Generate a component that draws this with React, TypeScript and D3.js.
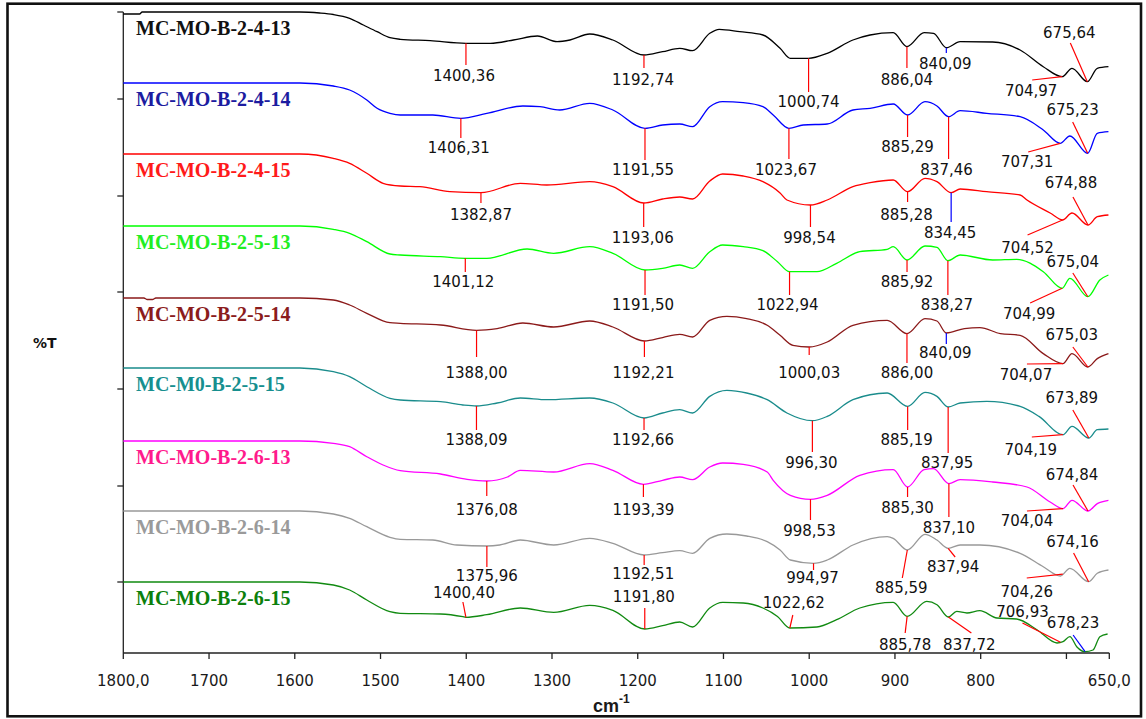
import React from 'react';
import * as d3 from 'd3';

// ---------- DATA ----------
const seriesNames = [
  'MC-MO-B-2-4-13', 'MC-MO-B-2-4-14', 'MC-MO-B-2-4-15',
  'MC-MO-B-2-5-13', 'MC-MO-B-2-5-14', 'MC-M0-B-2-5-15',
  'MC-MO-B-2-6-13', 'MC-MO-B-2-6-14', 'MC-MO-B-2-6-15',
];
const seriesColors = ['#000000', '#0000ff', '#ff0000', '#00ff00', '#8b1a1a', '#1a8c8c', '#ff00ff', '#999999', '#118a11'];
const labelColors = ['#111111', '#1c1ca0', '#ff1a1a', '#22ee22', '#8b1c1c', '#178f8f', '#ff1a8c', '#9a9a9a', '#0c800c'];

// vertical offset (arbitrary %T units) of each stacked spectrum's plateau
const offsets = [641, 570, 499, 427, 355, 285, 212, 142, 71];

// [wavenumber cm-1, %T relative to plateau]
const s1: [number, number][] = [[1800,-2],[1781,-2],[1778,0],[1594,0],[1571,-1],[1555,-2.5],[1536,-6.3],[1520,-13],[1504,-19.7],[1489,-25.7],[1477,-27.3],[1442,-28.7],[1400.36,-31.3],[1372,-31.3],[1345,-28],[1317,-24],[1294,-29.7],[1279,-28],[1256,-22],[1229,-28],[1192.74,-43],[1171,-39.7],[1151,-36.3],[1136,-38.7],[1116,-21.3],[1105,-17.3],[1081,-19.7],[1054,-23],[1034,-36.3],[1022,-46.3],[1000.74,-46.3],[979,-41.3],[949,-28],[929,-23],[902,-20.7],[886.04,-34.7],[866,-20.7],[855,-21.3],[840.09,-35.7],[824,-29.7],[786,-30],[754,-38],[727,-54.7],[704.97,-64.7],[693.5,-56.3],[675.64,-69.7],[664,-56.3],[651,-54.7]];
const s2: [number, number][] = [[1800,0],[1594,0],[1555,-3],[1536,-7],[1516,-17],[1504,-25.3],[1489,-30.3],[1477,-32],[1439,-32],[1406.31,-35.3],[1376,-30.3],[1334,-23],[1314,-23.7],[1291,-27],[1256,-20.3],[1229,-27],[1191.55,-45.3],[1171,-42],[1151,-41],[1136,-43.7],[1116,-23.7],[1101,-18.7],[1077,-19.7],[1054,-23.7],[1042,-32],[1023.67,-45.3],[1007,-42],[979,-41],[949,-27],[929,-25.3],[902,-21],[885.29,-32],[865,-18.7],[851,-23],[837.46,-33.7],[824,-27.7],[793,-30.3],[754,-33.7],[727,-47],[707.31,-60.3],[696,-53],[675.23,-70.3],[664,-50.3],[651,-48.7]];
const s3: [number, number][] = [[1800,0],[1594,0],[1555,-4.3],[1536,-9.3],[1516,-19.3],[1497,-29.3],[1477,-32],[1454,-32.7],[1419,-37.7],[1382.87,-38.7],[1337,-29.3],[1306,-31],[1256,-27.7],[1229,-32.7],[1193.06,-49],[1171,-45],[1151,-43],[1136,-45],[1116,-27],[1101,-20],[1077,-22],[1054,-27.7],[1034,-39],[1026,-46],[998.54,-51],[979,-46],[949,-32.7],[929,-28.7],[902,-26],[885.28,-37.7],[865,-24.3],[851,-27.7],[834.45,-38.7],[824,-35],[793,-37.7],[754,-41],[746,-46],[719,-59],[704.52,-66],[693.5,-59],[674.88,-71],[664,-62.7],[651,-61]];
const s4: [number, number][] = [[1800,0],[1594,0],[1555,-3.3],[1536,-7.3],[1516,-15.7],[1489,-28],[1477,-29],[1430,-30.7],[1401.12,-32.3],[1376,-32.3],[1329,-23],[1298,-27.3],[1256,-20.7],[1229,-27.3],[1191.5,-44],[1171,-42.3],[1151,-39],[1136,-42.3],[1116,-25.7],[1101,-19],[1077,-20.7],[1054,-24.7],[1037,-35.7],[1022.94,-45.7],[991,-45.7],[968,-37.3],[941,-25.7],[909,-23.3],[902,-20.7],[885.92,-34],[865,-20],[851,-21.3],[838.27,-34.7],[824,-29],[786,-34],[758,-33.3],[727,-45.7],[704.99,-62.3],[696,-52.3],[675.04,-70.7],[661,-54],[651,-49]];
const s5: [number, number][] = [[1800,0],[1776,0],[1772,-1.5],[1766,-1.5],[1762,0],[1594,0],[1555,-2],[1536,-7],[1516,-15.3],[1489,-24.7],[1477,-25.3],[1430,-27],[1388.00,-32.3],[1364,-30.6],[1334,-25],[1298,-29],[1256,-23],[1229,-29],[1192.21,-43],[1171,-39.6],[1151,-36.3],[1136,-39],[1116,-22.3],[1096,-18.3],[1073,-20.6],[1049,-27.3],[1034,-37.3],[1019,-47.3],[1000.03,-49],[979,-44],[949,-27.3],[909,-22.3],[886.00,-35.6],[865,-20.6],[851,-23],[840.09,-35],[819,-30.6],[801,-29.6],[777,-35.6],[754,-37.3],[727,-55.6],[704.07,-65.6],[693.5,-55.6],[675.03,-69],[664,-60.6],[651,-55.6]];
const s6: [number, number][] = [[1800,0],[1594,0],[1555,-3.7],[1536,-8.7],[1516,-18.7],[1489,-30.3],[1477,-32],[1430,-33.7],[1404,-37],[1388.09,-38],[1364,-35],[1337,-30],[1306,-31.7],[1256,-30],[1229,-35],[1192.66,-50],[1171,-45],[1151,-41.7],[1136,-45],[1116,-28.4],[1096,-22.4],[1073,-25],[1049,-31.7],[1026,-45],[996.30,-52.7],[979,-48.4],[949,-31.7],[909,-25],[885.19,-38.4],[865,-24.4],[851,-28.4],[837.95,-39],[824,-35],[793,-33.4],[754,-38.4],[732,-48.4],[704.19,-66.7],[693.5,-58.4],[673.89,-70],[664,-61.7],[651,-61]];
const s7: [number, number][] = [[1800,0],[1594,0],[1555,-2.3],[1536,-5.7],[1516,-15.7],[1497,-24],[1477,-29.7],[1430,-33],[1399,-38.3],[1376.08,-40],[1352,-36],[1337,-29.3],[1298,-31],[1256,-22.6],[1229,-29.3],[1193.39,-43.3],[1171,-39.3],[1151,-36],[1136,-38.6],[1116,-26],[1101,-22],[1077,-23.3],[1049,-31],[1042,-39.3],[1022,-54.3],[998.53,-58.3],[979,-54.3],[941,-34.3],[902,-28.6],[885.30,-46],[866,-28.6],[855,-27.6],[837.10,-42.6],[824,-38.6],[786,-41],[746,-46],[719,-61],[704.04,-67.6],[693.5,-59.3],[674.84,-70],[664,-62.6],[651,-59.3]];
const s8: [number, number][] = [[1800,0],[1594,0],[1555,-3],[1536,-7.3],[1516,-15.7],[1489,-26.3],[1477,-28.3],[1439,-29],[1411,-34],[1375.96,-35],[1361,-34],[1337,-29],[1298,-34],[1256,-27.3],[1229,-32.3],[1192.51,-44],[1171,-41.7],[1151,-39.7],[1136,-42.3],[1116,-27.3],[1096,-23],[1073,-25],[1049,-30.7],[1034,-39],[1022,-49],[994.97,-52.3],[979,-49],[949,-34],[909,-25.7],[902,-27.3],[885.59,-39],[865,-23.3],[851,-29],[837.94,-37.3],[824,-34],[801,-34],[754,-42.3],[727,-55.7],[707,-65],[696,-57.3],[674.16,-70.7],[664,-62.3],[651,-59]];
const s9: [number, number][] = [[1800,0],[1594,0],[1555,-3],[1536,-8],[1516,-18],[1489,-29.7],[1477,-31.3],[1430,-32],[1404,-34.7],[1400.40,-35.3],[1376,-32.7],[1337,-26],[1298,-30.4],[1256,-23.4],[1229,-28.4],[1191.80,-47],[1171,-43.7],[1151,-40],[1136,-45],[1116,-26],[1101,-20.4],[1077,-21],[1054,-26],[1037,-34.4],[1022.62,-46],[991,-45],[968,-37.7],[941,-26],[902,-20.4],[885.78,-34.4],[863,-19.4],[851,-22.7],[837.72,-35],[828,-29.4],[816,-31],[801,-28.7],[781,-36],[758,-37],[734,-48],[711,-61],[704,-59.7],[696,-54.7],[688,-64.7],[678.23,-69.7],[669,-68],[661,-54.7],[652,-52]];
const spectra = [s1, s2, s3, s4, s5, s6, s7, s8, s9];

// peak annotations: [wavenumber, label]
const peaks: [number, string][][] = [
  [[1400.36,'1400,36'],[1192.74,'1192,74'],[1000.74,'1000,74'],[886.04,'886,04'],[840.09,'840,09'],[704.97,'704,97'],[675.64,'675,64']],
  [[1406.31,'1406,31'],[1191.55,'1191,55'],[1023.67,'1023,67'],[885.29,'885,29'],[837.46,'837,46'],[707.31,'707,31'],[675.23,'675,23']],
  [[1382.87,'1382,87'],[1193.06,'1193,06'],[998.54,'998,54'],[885.28,'885,28'],[834.45,'834,45'],[704.52,'704,52'],[674.88,'674,88']],
  [[1401.12,'1401,12'],[1191.50,'1191,50'],[1022.94,'1022,94'],[885.92,'885,92'],[838.27,'838,27'],[704.99,'704,99'],[675.04,'675,04']],
  [[1388.00,'1388,00'],[1192.21,'1192,21'],[1000.03,'1000,03'],[886.00,'886,00'],[840.09,'840,09'],[704.07,'704,07'],[675.03,'675,03']],
  [[1388.09,'1388,09'],[1192.66,'1192,66'],[996.30,'996,30'],[885.19,'885,19'],[837.95,'837,95'],[704.19,'704,19'],[673.89,'673,89']],
  [[1376.08,'1376,08'],[1193.39,'1193,39'],[998.53,'998,53'],[885.30,'885,30'],[837.10,'837,10'],[704.04,'704,04'],[674.84,'674,84']],
  [[1375.96,'1375,96'],[1192.51,'1192,51'],[994.97,'994,97'],[885.59,'885,59'],[837.94,'837,94'],[704.26,'704,26'],[674.16,'674,16']],
  [[1400.40,'1400,40'],[1191.80,'1191,80'],[1022.62,'1022,62'],[885.78,'885,78'],[837.72,'837,72'],[706.93,'706,93'],[678.23,'678,23']],
];

// annotation layout: [line end dx, line end dy (from plateau), label dx, label baseline dy (from plateau), blue?]
const peakLayout: [number, number, number, number, number][][] = [
  [[0,53,-2,69,0],[0,56,-1,73,0],[0,80,0,95,0],[0,56,0,73,0],[0,41,-1,57,1],[-30,68,-31,84,0],[-17,31,-18,26,0]],
  [[0,55,-2,70,0],[0,77,-2,92,0],[0,76,-3,92,0],[0,54,0,69,0],[0,76,-2,92,0],[-32,69,-33,84,0],[-15,39,-15,32,0]],
  [[0,49,0,66,0],[0,73,-1,89,0],[0,73,-1,89,0],[0,48,-1,66,0],[0,68,-1,84,1],[-35,81,-35,99,0],[-15,43,-17,34,0]],
  [[0,46,-2,61,0],[0,69,-2,84,0],[0,69,-2,84,0],[0,46,0,61,0],[0,69,-1,84,0],[-32,77,-33,93,0],[-15,47,-15,41,0]],
  [[0,59,0,80,0],[0,59,-1,80,0],[0,57,0,80,0],[0,65,0,80,0],[0,46,-1,60,1],[-36,66,-37,82,0],[-15,49,-16,42,0]],
  [[0,62,0,77,0],[0,62,-1,77,0],[0,84,-1,100,0],[0,62,-1,77,0],[0,85,-1,100,0],[-31,69,-32,87,0],[-16,42,-17,35,0]],
  [[0,55,0,74,0],[0,56,0,74,0],[0,79,-1,95,0],[0,56,0,72,0],[0,76,0,92,0],[-36,70,-36,85,0],[-15,44,-16,39,0]],
  [[0,56,0,70,0],[0,54,-1,68,0],[0,59,-1,72,0],[-5,67,-6,82,0],[7,46,5,61,0],[-36,67,-36,86,0],[-15,42,-16,36,0]],
  [[-3,20,-2,16,0],[0,26,-1,20,0],[3,33,4,26,0],[-2,51,-2,68,0],[23,51,21,68,0],[-38,41,-38,35,0],[-12,53,-12,46,1]],
];

const xTickValues = [1800, 1700, 1600, 1500, 1400, 1300, 1200, 1100, 1000, 900, 800, 700, 650];
const xTickLabels = ['1800,0', '1700', '1600', '1500', '1400', '1300', '1200', '1100', '1000', '900', '800', '', '650,0'];
const yTickValues = [71, 167, 264, 361, 457, 554, 641];

// ---------- CHART ----------
const W = 1146;
const H = 719;
const xS = d3.scaleLinear().domain([1800, 650]).range([123.3, 1109.3]);
const yS = d3.scaleLinear().domain([0, 641]).range([653, 12]);

function valueAt(data: [number, number][], wn: number): number {
  for (let i = 0; i < data.length - 1; i++) {
    const [w0, v0] = data[i];
    const [w1, v1] = data[i + 1];
    if (wn <= w0 && wn >= w1) return v0 + ((v1 - v0) * (wn - w0)) / (w1 - w0);
  }
  return data[data.length - 1][1];
}

const numFont = '"DejaVu Sans", Verdana, sans-serif';

export default function App() {
  const axisColor = '#222';
  return (
    <div style={{ position: 'absolute', left: 0, top: 0 }}>
      <svg width={W} height={H} style={{ display: 'block', background: '#fff' }}>
        <rect x={7.5} y={3.7} width={1133.5} height={712.6} fill="#fff" stroke="#111" strokeWidth={2.6} />

        {/* axes */}
        <line x1={xS(1800)} x2={xS(1800)} y1={yS(641)} y2={yS(0)} stroke={axisColor} strokeWidth={1.3} />
        <line x1={xS(1800)} x2={xS(650)} y1={yS(0)} y2={yS(0)} stroke={axisColor} strokeWidth={1.3} />
        {yTickValues.map((t) => (
          <line key={'yt' + t} x1={xS(1800) - 6} x2={xS(1800)} y1={yS(t)} y2={yS(t)} stroke={axisColor} strokeWidth={1.3} />
        ))}
        {xTickValues.map((t, i) => (
          <g key={'xt' + t}>
            <line x1={xS(t)} x2={xS(t)} y1={yS(0)} y2={yS(0) + 6} stroke={axisColor} strokeWidth={1.3} />
            {xTickLabels[i] && (
              <text x={xS(t)} y={686} textAnchor="middle" fontFamily={numFont} fontSize={15} fill="#1a1a1a">
                {xTickLabels[i]}
              </text>
            )}
          </g>
        ))}
        <text x={593} y={712} fontFamily='"Liberation Sans", Arial, sans-serif' fontWeight="bold" fontSize={18} fill="#1a1a1a">
          cm<tspan dy={-9} fontSize={12}>-1</tspan>
        </text>
        <text x={33} y={348} fontFamily={numFont} fontWeight="bold" fontSize={14} fill="#111">%T</text>

        {/* spectra */}
        {spectra.map((data, si) => {
          const off = offsets[si];
          const line = d3
            .line<[number, number]>()
            .x((d) => xS(d[0]))
            .y((d) => yS(off + d[1]))
            .curve(d3.curveMonotoneX);
          const baseY = yS(off);
          return (
            <g key={'s' + si}>
              <path d={line(data) || ''} fill="none" stroke={seriesColors[si]} strokeWidth={1.3} strokeLinejoin="round" />
              <text x={136} y={baseY + 23} fontFamily='"Liberation Serif", "Times New Roman", serif' fontWeight="bold" fontSize={20} fill={labelColors[si]}>
                {seriesNames[si]}
              </text>
              {peaks[si].map(([wn, txt], pi) => {
                const [ex, ey, tx, ty, blue] = peakLayout[si][pi];
                const px = xS(wn);
                const py = yS(off + valueAt(data, wn));
                return (
                  <g key={'p' + pi}>
                    <line x1={px} y1={py} x2={px + ex} y2={baseY + ey} stroke={blue ? '#0000ff' : '#ff0000'} strokeWidth={1.2} />
                    <text x={px + tx} y={baseY + ty} textAnchor="middle" fontFamily={numFont} fontSize={15} fill="#111">
                      {txt}
                    </text>
                  </g>
                );
              })}
            </g>
          );
        })}
      </svg>
    </div>
  );
}
